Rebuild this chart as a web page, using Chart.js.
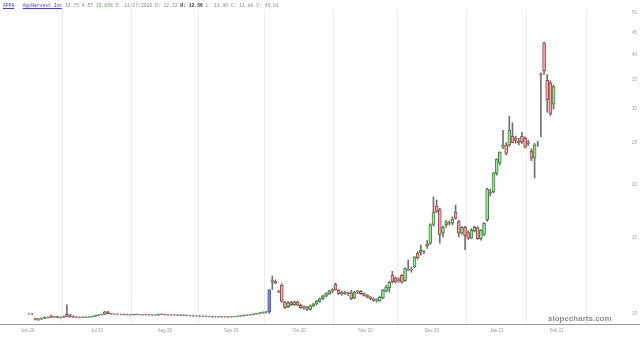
<!DOCTYPE html>
<html>
<head>
<meta charset="utf-8">
<script src="https://cdn.jsdelivr.net/npm/chart.js@4.4.1/dist/chart.umd.min.js"></script>
<style>
  html, body { margin: 0; padding: 0; background: #fff; }
  #wrap { position: relative; width: 640px; height: 338px; }
  #hdr { position: absolute; left: 3px; top: 3px; font-family: "Liberation Mono", monospace; font-size: 4.7px; line-height: 6px; white-space: pre; color: #8a8a8a; }
  #hdr .lnk { color: #3a3aff; text-decoration: underline; }
  #hdr .up { color: #4f9f4f; }
  #hdr b { color: #333; }
  #mark { position: absolute; left: 548px; top: 314px; font-family: "Liberation Sans", sans-serif; font-size: 8px; font-weight: bold; color: #8c8c8c; }
</style>
</head>
<body>
<div id="wrap">
  <canvas id="chart" width="640" height="338"></canvas>
  <div id="hdr"><span class="lnk">APPH</span>   <span class="lnk">AppHarvest Inc</span> 33.75 <span class="up">4.57 15.66%</span> D: 11/27/2020 O: 12.32 <b>H: 12.56</b> L: 11.80 C: 11.88 V: 45.81</div>
  <div id="mark">slopecharts.com</div>
</div>
<script>
// trading days (NYSE holidays removed)
var holidays = ["2020-07-03", "2020-09-07", "2020-11-26", "2020-12-25", "2021-01-01", "2021-01-18", "2021-02-15"];
var monthNames = ["Jan", "Feb", "Mar", "Apr", "May", "Jun", "Jul", "Aug", "Sep", "Oct", "Nov", "Dec"];
var firstCandle = "2020-06-16";
var lastLabelMonth = "2021-02";
var spikeDay = "2020-10-02";

// [open, high, low, close] per trading day
var jun = [[10.0,10.02,9.98,10.0],[10.0,10.02,9.97,9.99],[9.76,9.78,9.68,9.72],[9.70,9.76,9.66,9.74],[9.74,9.80,9.70,9.78],[9.78,9.85,9.75,9.82],[9.82,9.86,9.78,9.80],[9.90,9.95,9.80,9.82],[9.84,9.88,9.80,9.86],[9.86,9.88,9.80,9.82],[9.82,9.86,9.78,9.84]];
var jul = [[9.84,9.90,9.80,9.86],[9.98,10.5,9.85,9.85],[9.92,9.98,9.82,9.86],[9.86,9.90,9.80,9.84],[9.84,9.88,9.80,9.83],[9.83,9.86,9.79,9.82],[9.82,9.86,9.80,9.84],[9.84,9.86,9.80,9.82],[9.82,9.86,9.80,9.85],[9.85,9.90,9.83,9.88],[9.88,9.95,9.86,9.93],[9.93,9.98,9.90,9.96],[9.96,10.0,9.94,9.98],[9.98,10.14,9.96,10.12],[10.12,10.15,10.0,10.02],[10.02,10.04,9.98,10.0],[10.0,10.02,9.97,9.99],[9.99,10.01,9.96,9.98],[9.98,10.0,9.95,9.98],[9.98,10.0,9.95,9.97],[9.97,9.99,9.94,9.96],[9.96,9.98,9.93,9.97]];
var aug = [[9.97,9.99,9.94,9.98],[9.98,10.0,9.95,9.97],[9.97,9.99,9.94,9.96],[9.96,9.98,9.93,9.97],[9.97,9.99,9.94,9.96],[9.96,9.98,9.93,9.95],[9.95,9.97,9.92,9.96],[9.96,9.98,9.93,9.97],[9.94,10.0,9.93,9.99],[9.99,10.0,9.95,9.97],[9.97,9.99,9.94,9.96],[9.96,9.98,9.93,9.95],[9.95,9.97,9.92,9.96],[9.96,9.98,9.93,9.95],[9.95,9.97,9.92,9.94],[9.94,9.96,9.91,9.95],[9.95,9.96,9.91,9.93],[9.93,9.95,9.90,9.92],[9.92,9.94,9.89,9.92],[9.92,9.94,9.88,9.90],[9.90,9.92,9.87,9.90]];
var sep = [[9.90,9.92,9.87,9.89],[9.89,9.91,9.86,9.88],[9.88,9.90,9.85,9.87],[9.87,9.89,9.84,9.86],[9.86,9.88,9.83,9.85],[9.85,9.87,9.82,9.85],[9.85,9.88,9.83,9.86],[9.86,9.88,9.83,9.85],[9.85,9.87,9.82,9.84],[9.84,9.87,9.82,9.86],[9.86,9.88,9.83,9.85],[9.85,9.88,9.84,9.87],[9.87,9.90,9.85,9.89],[9.89,9.92,9.87,9.91],[9.91,9.95,9.89,9.93],[9.93,9.97,9.91,9.95],[9.95,9.99,9.93,9.97],[9.97,10.02,9.95,10.0],[10.0,10.05,9.98,10.03],[10.03,10.08,10.0,10.06],[10.06,10.12,10.03,10.1]];
var oct = [[10.1,10.15,10.05,10.12],[10.12,11.4,10.05,11.35],[11.85,12.25,11.4,11.95],[11.9,12.0,11.75,11.8],[11.3,11.35,11.2,11.25],[11.68,11.75,10.65,10.7],[10.66,10.7,10.3,10.35],[10.4,10.7,10.35,10.6],[10.65,10.7,10.45,10.5],[10.5,10.72,10.45,10.68],[10.68,10.72,10.45,10.48],[10.48,10.55,10.3,10.35],[10.35,10.45,10.25,10.4],[10.4,10.42,10.2,10.25],[10.25,10.5,10.2,10.45],[10.45,10.6,10.4,10.55],[10.55,10.75,10.5,10.7],[10.7,10.9,10.65,10.85],[10.85,11.05,10.8,11.0],[11.0,11.2,10.95,11.15],[11.15,11.35,11.1,11.3],[11.3,11.45,11.2,11.4]];
var nov = [[11.72,11.8,11.35,11.38],[11.35,11.4,11.1,11.15],[11.15,11.3,11.05,11.25],[11.25,11.3,11.1,11.15],[11.15,11.25,11.05,11.2],[11.2,11.35,10.8,10.85],[10.9,11.3,10.85,11.25],[11.25,11.35,11.15,11.3],[11.3,11.35,11.1,11.15],[11.15,11.2,11.0,11.05],[11.05,11.1,10.9,10.95],[10.95,11.0,10.8,10.85],[10.85,10.9,10.7,10.75],[10.75,10.85,10.65,10.8],[10.72,11.0,10.7,10.95],[10.9,11.4,10.85,11.35],[11.3,11.65,11.25,11.55],[11.5,11.9,11.25,11.85],[12.32,12.56,11.80,11.88],[12.1,12.2,11.8,11.87]];
var dec = [[12.0,12.15,11.85,11.95],[12.3,12.35,11.8,11.85],[11.95,12.8,11.9,12.75],[12.7,13.35,12.6,12.65],[12.7,12.85,12.5,12.65],[12.86,13.6,12.8,13.56],[13.85,13.95,13.4,13.5],[13.9,14.46,13.7,14.05],[13.95,14.05,13.8,13.93],[14.4,14.8,14.2,14.55],[14.6,16.2,14.5,16.1],[16.15,18.7,16.0,17.25],[17.8,18.4,17.2,17.3],[17.45,17.6,14.6,15.3],[15.4,16.0,15.1,15.9],[16.1,16.5,15.9,16.35],[16.3,16.45,16.1,16.25],[16.25,16.8,16.1,16.6],[17.25,17.9,16.6,16.7],[16.4,16.5,15.1,15.4],[15.4,15.95,15.3,15.9],[15.9,16.0,14.1,15.2]];
var jan = [[15.45,15.6,14.9,15.0],[15.0,15.8,14.95,15.65],[15.6,16.0,15.5,15.9],[15.85,15.95,14.9,14.95],[14.95,15.7,14.85,15.65],[15.3,16.3,15.2,16.25],[16.55,19.6,16.4,19.5],[19.2,19.5,18.8,19.1],[19.2,21.3,19.1,21.25],[21.2,22.95,21.0,22.9],[22.4,23.8,22.2,23.76],[24.4,26.7,24.2,24.6],[24.7,25.0,23.4,23.6],[24.7,28.8,24.5,26.75],[25.9,27.8,25.0,25.0],[25.6,25.9,24.9,25.3],[25.2,25.6,24.7,25.0],[25.9,26.4,24.9,25.1],[25.6,25.8,24.3,24.4]];
var feb = [[25.0,25.3,24.6,24.9],[23.9,24.2,22.7,23.0],[23.0,24.9,20.7,24.7],[24.8,25.2,24.5,24.85],[35.9,36.3,25.8,36.1],[42.6,42.8,36.0,36.7],[34.9,36.0,29.4,31.4],[34.4,34.8,28.9,29.18],[30.7,34.0,29.9,33.75]];

var yTicks = [10, 15, 20, 25, 30, 35, 40, 45, 50];

// horizontal layout of the day axis: pixel of day 0 and pixels per trading day
var dayPx0 = -5.76, dayPx = 3.16;

// build the trading-day calendar
var dates = [];
for (var d = new Date(Date.UTC(2020, 5, 1)); d <= new Date(Date.UTC(2021, 2, 12)); d.setUTCDate(d.getUTCDate() + 1)) {
    var wd = d.getUTCDay();
    if (wd === 0 || wd === 6) continue;
    var s = d.toISOString().slice(0, 10);
    if (holidays.indexOf(s) >= 0) continue;
    dates.push(s);
}

var xMin = 1.82, xMax = 197.4;

// month boundaries -> grid lines, month middles -> labels
var monthStarts = [];
for (var i = 0; i < dates.length; i++) {
    if (i === 0 || dates[i].slice(0, 7) !== dates[i - 1].slice(0, 7)) monthStarts.push(i);
}
monthStarts.push(dates.length);
var gridVals = [], labelVals = {}, tickVals = [];
for (var m = 0; m < monthStarts.length - 1; m++) {
    var a = monthStarts[m], b = monthStarts[m + 1];
    var ds = dates[a];
    if (m > 0) { gridVals.push(a - 0.5); tickVals.push(a - 0.5); }
    if (ds.slice(0, 7) <= lastLabelMonth) {
        var mid = (a + b - 1) / 2;
        labelVals[mid] = monthNames[parseInt(ds.slice(5, 7), 10) - 1] + " " + ds.slice(2, 4);
        tickVals.push(mid);
    }
}
tickVals = tickVals.filter(function (v) { return v >= xMin && v <= xMax; }).sort(function (p, q) { return p - q; });

var candles = [].concat(jun, jul, aug, sep, oct, nov, dec, jan, feb);
var start = dates.indexOf(firstCandle);

var bodies = [], wicks = [], fill = [], edge = [], wickCol = [];
candles.forEach(function (c, k) {
    var x = start + k;
    bodies.push({ x: x, y: [c[0], c[3]] });
    wicks.push({ x: x, y: [c[2], c[1]] });
    if (dates[x] === spikeDay) {
        fill.push("#7f80dc"); edge.push("#5b5cc0"); wickCol.push("#5b5cc0");
    } else if (c[3] >= c[0]) {
        fill.push("#9fe59a"); edge.push("#3f7f3f"); wickCol.push("#707070");
    } else {
        fill.push("#f3a9a9"); edge.push("#9a4848"); wickCol.push("#707070");
    }
});

// keep the day axis at a fixed pixels-per-day whatever the layout gives
var dayAxisFit = {
    id: "dayAxisFit",
    afterLayout: function (chart) {
        var sc = chart.scales.x;
        var L = sc.getPixelForValue(sc.min), R = sc.getPixelForValue(sc.max);
        var lo = (L - dayPx0) / dayPx;
        var hi = lo + (R - L) / dayPx;
        sc.min = lo;
        sc.max = hi;
        sc.configure();
    }
};

var fullWidthBase = {
    id: "fullWidthBase",
    afterDraw: function (chart) {
        var c = chart.ctx, y = chart.chartArea.bottom + 0.5;
        c.save();
        c.strokeStyle = "#9c9c9c";
        c.lineWidth = 1;
        c.beginPath();
        c.moveTo(0, y);
        c.lineTo(chart.width, y);
        c.stroke();
        c.restore();
    }
};

var ctx = document.getElementById("chart").getContext("2d");
var myChart = new Chart(ctx, {
    type: "bar",
    data: {
        datasets: [
            {
                label: "body",
                data: bodies,
                backgroundColor: fill,
                borderColor: edge,
                borderWidth: 1,
                borderSkipped: false,
                barThickness: 3,
                grouped: false,
                order: 0,
            },
            {
                label: "wick",
                data: wicks,
                backgroundColor: wickCol,
                borderWidth: 0,
                barThickness: 1,
                grouped: false,
                order: 1,
            },
        ],
    },
    options: {
        responsive: false,
        animation: false,
        layout: { padding: { top: 10, left: 0, right: 0, bottom: 0 } },
        plugins: {
            legend: { display: false },
            tooltip: { enabled: false },
        },
        scales: {
            x: {
                type: "linear",
                offset: false,
                min: xMin,
                max: xMax,
                afterBuildTicks: function (axis) {
                    axis.ticks = tickVals.map(function (v) { return { value: v }; });
                },
                afterFit: function (axis) {
                    axis.height = 14;
                    axis.paddingLeft = 0;
                    axis.paddingRight = 0;
                },
                grid: {
                    offset: false,
                    drawTicks: false,
                    color: function (c) {
                        return c.tick && gridVals.indexOf(c.tick.value) >= 0 ? "#ececec" : "rgba(0,0,0,0)";
                    },
                },
                border: { display: false },
                ticks: {
                    autoSkip: false,
                    maxRotation: 0,
                    padding: 4,
                    color: "#8fa08f",
                    font: { family: "Liberation Sans", size: 4.5 },
                    callback: function (v) { return labelVals[v] || ""; },
                },
            },
            y: {
                type: "logarithmic",
                position: "right",
                min: 9.48,
                max: 50.8,
                afterBuildTicks: function (axis) {
                    axis.ticks = yTicks.map(function (v) { return { value: v }; });
                },
                afterFit: function (axis) {
                    axis.width = 22;
                    axis.paddingTop = 0;
                    axis.paddingBottom = 0;
                },
                grid: { display: false, drawTicks: false },
                border: { display: false },
                ticks: {
                    padding: 14,
                    color: "#a0a0a0",
                    font: { family: "Liberation Sans", size: 4.5 },
                    callback: function (v) { return String(v); },
                },
            },
        },
    },
    plugins: [dayAxisFit, fullWidthBase],
});
</script>
</body>
</html>
